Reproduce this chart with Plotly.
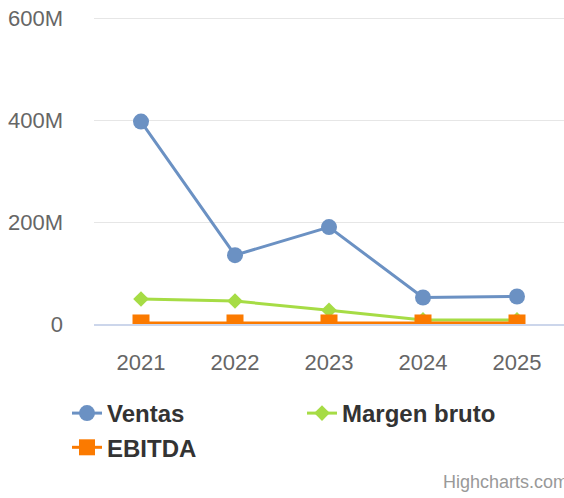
import plotly.graph_objects as go

years = ["2021", "2022", "2023", "2024", "2025"]
ventas = [397e6, 135e6, 190e6, 52e6, 54e6]
margen_bruto = [49e6, 45e6, 27e6, 8e6, 8e6]
ebitda = [2e6, 2e6, 2e6, 2e6, 2e6]
y_ticks = [0, 200e6, 400e6, 600e6]
y_tick_labels = ["0", "200M", "400M", "600M"]

FONT = "Liberation Sans, Arial, Helvetica, sans-serif"

fig = go.Figure()
fig.add_trace(go.Scatter(
    x=years, y=ventas, name="Ventas", mode="lines+markers",
    line=dict(color="#6b91c3", width=3),
    marker=dict(symbol="circle", size=16, color="#6b91c3"),
))
fig.add_trace(go.Scatter(
    x=years, y=margen_bruto, name="Margen bruto", mode="lines+markers",
    line=dict(color="#a6dc45", width=3),
    marker=dict(symbol="diamond", size=12, color="#a6dc45"),
))
fig.add_trace(go.Scatter(
    x=years, y=ebitda, name="EBITDA", mode="lines+markers",
    line=dict(color="#fb7a00", width=3),
    marker=dict(symbol="square", size=17, color="#fb7a00"),
))

# plot area: x 94..564, y 15..324 (pixels)
fig.update_layout(
    width=564, height=498,
    margin=dict(l=94, r=0, t=15, b=174, autoexpand=False),
    paper_bgcolor="white", plot_bgcolor="white",
    font=dict(family=FONT, color="#666666", size=22),
    xaxis=dict(
        type="category", showgrid=False, zeroline=False,
        showline=True, linecolor="#ccd6eb", linewidth=2,
        ticks="", tickfont=dict(size=22, color="#666666"),
        ticklabelstandoff=18, range=[-0.5, 4.5],
    ),
    yaxis=dict(
        range=[0, 606e6], tickvals=y_ticks, ticktext=y_tick_labels,
        showgrid=True, gridcolor="#e6e6e6", gridwidth=1,
        zeroline=False, showline=False, ticks="",
        tickfont=dict(size=22, color="#666666"),
        ticklabelstandoff=30,
    ),
    legend=dict(
        orientation="h", xref="paper", yref="paper",
        x=(67 - 94) / 470, y=(324 - 391) / 309, xanchor="left", yanchor="top",
        entrywidth=190, entrywidthmode="pixels",
        font=dict(size=24, color="#333333", family=FONT, weight="bold"),
        tracegroupgap=0, itemsizing="trace",
    ),
    showlegend=True,
)

fig.add_annotation(
    text="Highcharts.com", xref="paper", yref="paper",
    x=1, y=0, xanchor="right", yanchor="bottom",
    xshift=6, yshift=-174 + 4,
    showarrow=False, font=dict(size=18, color="#999999", family=FONT),
)

fig.write_html(
    "out.html",
    config={"displayModeBar": False},
    post_script="document.body.style.margin='0';document.body.style.overflow='hidden';",
)
